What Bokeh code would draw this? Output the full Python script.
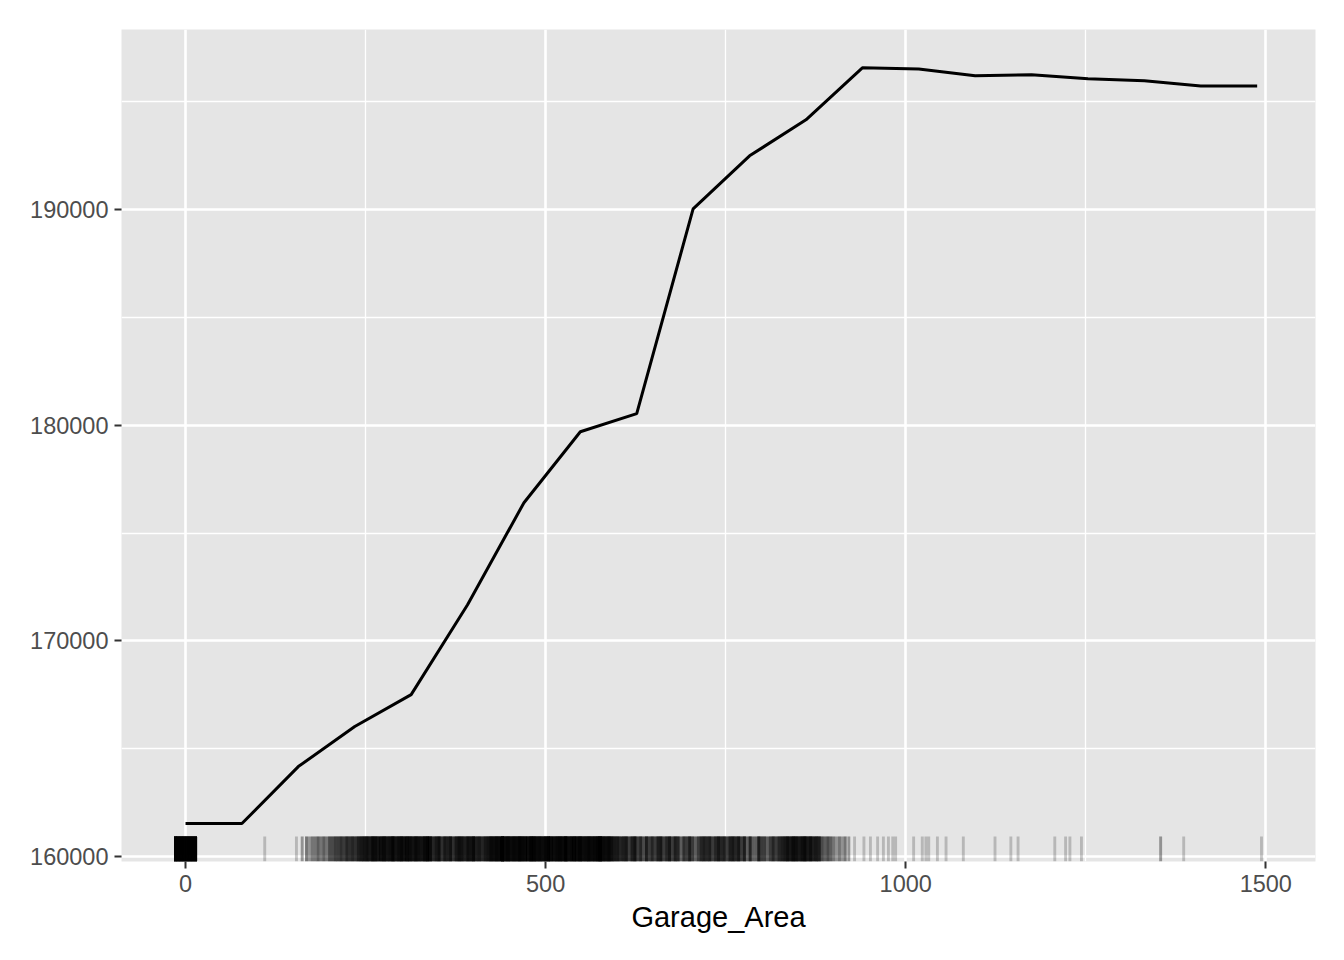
from bokeh.plotting import figure
from bokeh.models import Range1d, FixedTicker, ColumnDataSource, BasicTickFormatter
from bokeh.embed import file_html
from bokeh.resources import INLINE

# Partial dependence line
grid_x = [0, 78.3, 156.6, 235.0, 313.3, 391.6, 469.9, 548.2, 626.5, 704.8,
          783.2, 861.5, 939.8, 1018.1, 1096.4, 1174.7, 1253.1, 1331.4, 1409.7, 1488]
yhat = [161530, 161530, 164170, 166030, 167510, 171680, 176410, 179700, 180540, 190040,
        192500, 194170, 196580, 196530, 196210, 196260, 196070, 195980, 195740, 195740]

# Rug: observed Garage_Area positions and how many lines overlap there
rug_x = [
    -14, -10, -6, -2, 2, 6, 10, 14,
    110, 154,
    162, 168, 172, 176, 180, 184, 188, 192, 196, 200,
    204, 208, 212, 216, 220, 224, 228, 232, 236, 240,
    244, 248, 252, 256, 260, 264, 268, 272, 276, 280,
    284, 288, 292, 296, 300, 304, 308, 312, 316, 320,
    324, 328, 332, 336, 340, 344, 348, 352, 356, 360,
    364, 368, 372, 376, 380, 384, 388, 392, 396, 400,
    404, 408, 412, 416, 420, 424, 428, 432, 436, 440,
    444, 448, 452, 456, 460, 464, 468, 472, 476, 480,
    484, 488, 492, 496, 500, 504, 508, 512, 516, 520,
    524, 528, 532, 536, 540, 544, 548, 552, 556, 560,
    564, 568, 572, 576, 580, 584, 588, 592, 596, 600,
    604, 608, 612, 616, 620, 624, 628, 632, 636, 640,
    644, 648, 652, 656, 660, 664, 668, 672, 676, 680,
    684, 688, 692, 696, 700, 704, 708, 712, 716, 720,
    724, 728, 732, 736, 740, 744, 748, 752, 756, 760,
    764, 768, 772, 776, 780, 784, 788, 792, 796, 800,
    804, 808, 812, 816, 820, 824, 828, 832, 836, 840,
    844, 848, 852, 856, 860, 864, 868, 872, 876, 880,
    884, 888, 892, 896, 900, 904, 908, 912, 916, 921,
    929, 942, 951, 961, 969, 976, 982, 986, 1011, 1023,
    1028, 1032, 1044, 1056, 1080, 1124, 1146, 1156, 1207, 1222,
    1228, 1244, 1354, 1386, 1494,
]
rug_n = [
    20, 20, 20, 20, 20, 20, 20, 20,
    1, 1,
    2, 3, 2, 3, 3, 4, 3, 4, 3, 5,
    5, 6, 6, 7, 6, 8, 7, 8, 7, 9,
    10, 11, 12, 10, 14, 13, 11, 12, 14, 11,
    12, 16, 11, 13, 15, 12, 14, 13, 11, 14,
    12, 11, 14, 16, 13, 8, 10, 12, 7, 10,
    9, 11, 7, 10, 12, 11, 9, 12, 11, 14,
    9, 10, 8, 10, 11, 14, 13, 15, 14, 24,
    14, 16, 13, 15, 14, 17, 15, 14, 13, 18,
    17, 14, 15, 13, 16, 18, 14, 13, 15, 16,
    14, 20, 13, 15, 16, 14, 17, 13, 14, 16,
    14, 15, 17, 22, 14, 13, 15, 12, 10, 10,
    8, 9, 10, 6, 9, 11, 6, 8, 5, 9,
    6, 8, 6, 9, 10, 6, 8, 10, 6, 9,
    8, 4, 7, 6, 9, 6, 4, 6, 8, 9,
    8, 9, 6, 8, 10, 8, 9, 6, 9, 10,
    8, 10, 6, 9, 4, 8, 4, 4, 9, 6,
    6, 4, 6, 8, 6, 8, 9, 10, 12, 10,
    13, 12, 10, 12, 14, 10, 12, 9, 10, 9,
    5, 4, 5, 4, 3, 2, 3, 2, 3, 2,
    1, 1, 1, 1, 1, 1, 1, 1, 1, 1,
    1, 1, 1, 1, 1, 1, 1, 1, 1, 1,
    1, 1, 2, 1, 1,
]
assert len(rug_x) == len(rug_n)

x_ticks = [0, 500, 1000, 1500]
x_minor = [250, 750, 1250]
y_ticks = [160000, 170000, 180000, 190000]
y_minor = [165000, 175000, 185000, 195000]

X_LO, X_HI = -88.9, 1569.0
Y_LO, Y_HI = 159768, 198359
rug_top = Y_LO + 0.03 * (Y_HI - Y_LO)

p = figure(width=1344, height=960,
           x_range=Range1d(X_LO, X_HI), y_range=Range1d(Y_LO, Y_HI),
           output_backend="svg", toolbar_location=None,
           min_border_left=121, min_border_right=29,
           min_border_top=29, min_border_bottom=99,
           background_fill_color="#E5E5E5", border_fill_color="white",
           outline_line_color=None)

# grids
for g in (p.xgrid, p.ygrid):
    g.grid_line_color = "white"
    g.grid_line_width = 2.6
    g.minor_grid_line_color = "white"
    g.minor_grid_line_width = 1.3

p.xaxis.ticker = FixedTicker(ticks=x_ticks, minor_ticks=x_minor)
p.yaxis.ticker = FixedTicker(ticks=y_ticks, minor_ticks=y_minor)
p.yaxis.formatter = BasicTickFormatter(use_scientific=False)

for ax in (p.xaxis, p.yaxis):
    ax.axis_line_color = None
    ax.major_tick_in = 0
    ax.major_tick_out = 7
    ax.minor_tick_in = 0
    ax.minor_tick_out = 0
    ax.major_tick_line_color = "#333333"
    ax.major_tick_line_width = 2
    ax.major_label_text_color = "#4D4D4D"
    ax.major_label_text_font = "Liberation Sans"
    ax.major_label_text_font_size = "23.5px"
    ax.major_label_standoff = 6

p.xaxis.axis_label = "Garage_Area"
p.xaxis.axis_label_text_font = "Liberation Sans"
p.xaxis.axis_label_text_font_size = "29px"
p.xaxis.axis_label_text_font_style = "normal"
p.xaxis.axis_label_text_color = "black"
p.xaxis.axis_label_standoff = 6

# rug: one translucent line per observation (overlaps darken)
xs = []
for v, n in zip(rug_x, rug_n):
    xs.extend([v] * n)
rug_src = ColumnDataSource(dict(x=xs, y0=[Y_LO] * len(xs), y1=[rug_top] * len(xs)))
p.segment(x0="x", y0="y0", x1="x", y1="y1", source=rug_src,
          line_color="black", line_alpha=0.2, line_width=2.9)

# line
p.line(grid_x, yhat, line_color="black", line_width=3)

open("out.html", "w").write(file_html(p, INLINE))
